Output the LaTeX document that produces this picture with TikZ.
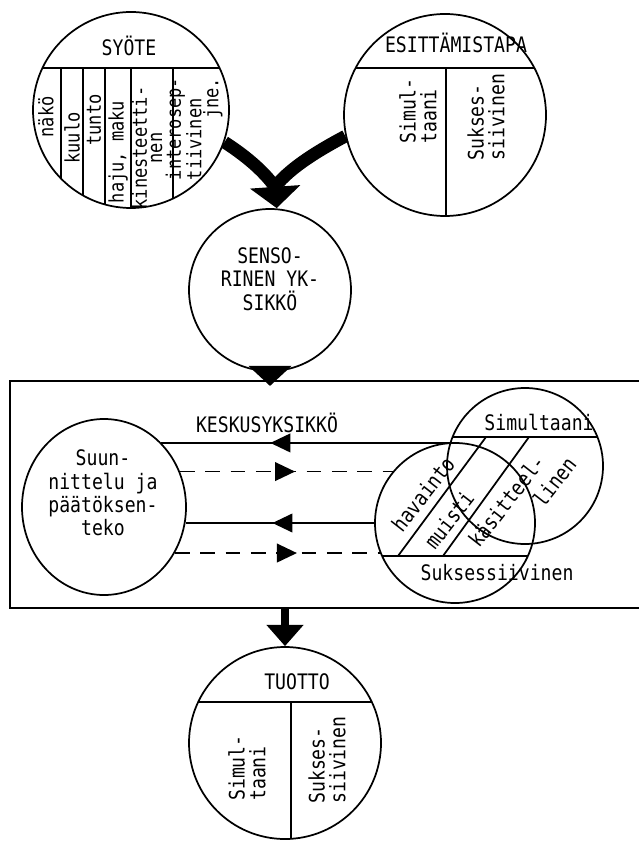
\documentclass[tikz,border=0pt]{standalone}
\usepackage{fontspec}
\newfontfamily\tw[FakeStretch=0.85]{DejaVu Sans Mono}
\usepackage{tikz}
\usetikzlibrary{arrows.meta,shapes.geometric,decorations.markings,calc}

\begin{document}
\begin{tikzpicture}[x=0.75pt,y=-0.75pt,line width=1.3pt,
  ring/.style={draw,circle,minimum size=#1,inner sep=0pt},
  lbl/.style={font=\tw\fontsize{16}{17.5}\selectfont,inner sep=0pt,align=center},
  vlbl/.style={lbl,rotate=90,align=left,font=\tw\fontsize{16}{15.5}\selectfont},
  slbl/.style={lbl,rotate=90,align=left,font=\tw\fontsize{15}{11.5}\selectfont},
  dlbl/.style={lbl,rotate=52},
  fat/.style={line width=9.5pt},
  dsh/.style={dash pattern=on 11pt off 8pt},
  flow/.style={postaction={decorate},decoration={markings,mark=at position #1 with {\arrow{Triangle[length=15pt,width=14pt]}}}}]
\useasboundingbox (0,0) rectangle (638,848);
\node[ring=147pt] (syote) at (131,110) {};
\node[ring=151.5pt] (esit) at (445,115) {};
\node[ring=121.5pt] (sens) at (270,290) {};
\node[draw,line width=1.6pt,minimum width=480pt,minimum height=170.25pt,inner sep=0pt] (kesk) at (330,494.5) {};
\node[draw,ellipse,minimum width=123pt,minimum height=132pt,inner sep=0pt] (supp) at (104,507) {};
\node[ring=117pt] (simu) at (525,466) {};
\node[ring=120pt] (hav) at (455,523) {};
\node[ring=144pt] (tuotto) at (285,743) {};
\coordinate (jn) at (275,187);

\begin{scope}
\clip (syote.center) circle[radius=98];
\draw (20,68) -- (240,68);
\foreach \x in {61,83,105,131,173} \draw (\x,68) -- (\x,215);
\end{scope}
\begin{scope}
\clip (esit.center) circle[radius=101];
\draw (330,68) -- (560,68);
\draw (446,68) -- (446,225);
\end{scope}
\begin{scope}
\clip (tuotto.center) circle[radius=96];
\draw (180,702) -- (390,702);
\draw (291,702) -- (291,845);
\end{scope}
\begin{scope}
\clip (simu.center) circle[radius=78];
\draw (440,437) -- (610,437);
\end{scope}
\begin{scope}
\clip (hav.center) circle[radius=80];
\draw (370,556) -- (540,556);
\end{scope}
\draw (398,556) -- (486,437);
\draw (443,556) -- (529,437);

\node[lbl] (syt) at (129,46) {SYÖTE};
\node[slbl] (nak) at (46,117) {näkö};
\node[slbl] (kuu) at (72,138) {kuulo};
\node[slbl] (tun) at (94,120) {tunto};
\node[slbl] (haj) at (118,152) {haju, maku};
\node[slbl,align=center] (kin) at (147,148) {kinesteetti-\\nen};
\node[slbl] (int) at (194,129) {interosep-\\tiivinen\\\hfill jne.};
\node[lbl] (est) at (456,43) {ESITTÄMISTAPA};
\node[vlbl] (esim) at (418,111) {Simul-\\taani};
\node[vlbl] (esuk) at (486,117) {Sukses-\\siivinen};
\node[lbl] at (270,279) {SENSO-\\RINEN YK-\\SIKKÖ};
\node[lbl] (kst) at (267,423) {KESKUSYKSIKKÖ};
\node[lbl] at (103,493) {Suun-\\nittelu ja\\päätöksen-\\teko};
\node[lbl] (sim) at (539,422) {Simultaani};
\node[lbl] (suk) at (497,573) {Suksessiivinen};
\node[dlbl] (hva) at (423,494) {havainto};
\node[dlbl] (mui) at (449,520) {muisti};
\node[dlbl,align=left,font=\tw\fontsize{16}{19.5}\selectfont] (kas) at (522,502) {käsitteel-\\\hspace*{54pt}linen};
\node[lbl] (tst) at (297,682) {TUOTTO};
\node[vlbl] (tsim) at (247,768) {Simul-\\taani};
\node[vlbl] (tsuk) at (327,760) {Sukses-\\siivinen};

\draw[fat] (syote.-19) .. controls (243,154) and (263,170) .. (jn);
\draw[fat] (esit.192) .. controls (325,147) and (291,166) .. (jn);
\draw[fat,-{Triangle[length=16pt,width=37pt]}] ([yshift=2pt]jn) -- ([xshift=5pt]sens.north);
\draw[-{Triangle[length=15pt,width=32pt]}] ([yshift=4pt]sens.south) -- ($(sens.south |- kesk.north)+(0,6)$);
\draw[flow=0.62] (simu.163) -- (simu.163 -| supp.49);
\draw[flow=0.54,dsh] (supp.25) -- (supp.25 -| hav.140);
\draw[flow=0.54] (hav.180) -- (hav.180 -| supp.-10);
\draw[flow=0.595,dsh] (supp.-33) -- (supp.-33 -| hav.202);
\draw[line width=6pt,-{Triangle[length=16pt,width=27pt]}] (kesk.south -| tuotto.north) -- (tuotto.north);
\end{tikzpicture}
\end{document}
